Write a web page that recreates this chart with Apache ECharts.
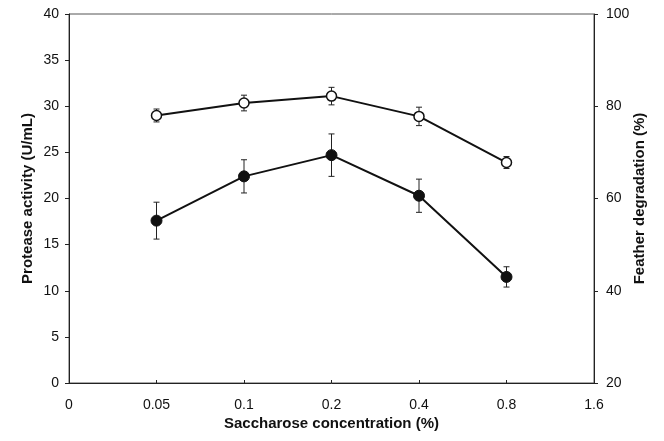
<!DOCTYPE html>
<html>
<head>
<meta charset="utf-8">
<script src="https://cdn.jsdelivr.net/npm/echarts@6/dist/echarts.min.js"></script>
<style>
  html, body { margin: 0; padding: 0; background: #fff; }
  #chart { width: 664px; height: 441px; }
</style>
</head>
<body>
<div id="chart"></div>
<script>
// x positions are evenly spaced categories 0..6
var xLabels = ['0', '0.05', '0.1', '0.2', '0.4', '0.8', '1.6'];
var xIdx = [1, 2, 3, 4, 5];

// protease activity (U/mL), left axis
var protease = [17.6, 22.4, 24.7, 20.3, 11.5];
var proteaseErr = [2.0, 1.8, 2.3, 1.8, 1.1];

// feather degradation (%), right axis
var feather = [78.0, 80.7, 82.2, 77.8, 67.8];
var featherErr = [1.4, 1.7, 1.9, 2.0, 1.3];

var font = 'Liberation Sans, Arial, sans-serif';

function pairs(vals) {
    return xIdx.map(function (x, i) { return [x, vals[i]]; });
}
function bars(vals, errs) {
    return xIdx.map(function (x, i) { return [x, vals[i] - errs[i], vals[i] + errs[i]]; });
}

function errorBar(params, api) {
    var lo = api.coord([api.value(0), api.value(1)]);
    var hi = api.coord([api.value(0), api.value(2)]);
    var w = 3;
    var st = { stroke: '#222', lineWidth: 1 };
    return {
        type: 'group',
        children: [
            { type: 'line', shape: { x1: lo[0], y1: lo[1], x2: hi[0], y2: hi[1] }, style: st },
            { type: 'line', shape: { x1: lo[0] - w, y1: lo[1], x2: lo[0] + w, y2: lo[1] }, style: st },
            { type: 'line', shape: { x1: hi[0] - w, y1: hi[1], x2: hi[0] + w, y2: hi[1] }, style: st }
        ]
    };
}

var chart = echarts.init(document.getElementById('chart'));

chart.setOption({
    animation: false,
    backgroundColor: '#fff',
    grid: {
        left: 69, right: 70, top: 14, bottom: 58,
        show: true, borderColor: '#555', borderWidth: 1
    },
    xAxis: {
        type: 'value', min: 0, max: 6, interval: 1,
        name: 'Saccharose concentration (%)',
        nameLocation: 'middle', nameGap: 33, nameMoveOverlap: false,
        nameTextStyle: { fontFamily: font, fontSize: 15, fontWeight: 'bold', color: '#111' },
        axisLine: { show: true, lineStyle: { color: '#222', width: 1 } },
        axisTick: { show: true, inside: true, length: 3, lineStyle: { color: '#222' } },
        axisLabel: {
            fontFamily: font, fontSize: 14, color: '#111', margin: 15,
            formatter: function (v) { return xLabels[v]; }
        },
        splitLine: { show: false }
    },
    yAxis: [
        {
            type: 'value', min: 0, max: 40, interval: 5, position: 'left',
            name: 'Protease activity (U/mL)',
            nameLocation: 'middle', nameGap: 34, nameRotate: 90, nameMoveOverlap: false,
            nameTextStyle: { fontFamily: font, fontSize: 15, fontWeight: 'bold', color: '#111' },
            axisLine: { show: true, lineStyle: { color: '#222', width: 1 } },
            axisTick: { show: true, length: 4, lineStyle: { color: '#222' } },
            axisLabel: { fontFamily: font, fontSize: 14, color: '#111', margin: 10 },
            splitLine: { show: false }
        },
        {
            type: 'value', min: 20, max: 100, interval: 20, position: 'right',
            name: 'Feather degradation (%)',
            nameLocation: 'middle', nameGap: 38, nameRotate: 90, nameMoveOverlap: false,
            nameTextStyle: { fontFamily: font, fontSize: 15, fontWeight: 'bold', color: '#111' },
            axisLine: { show: true, lineStyle: { color: '#222', width: 1 } },
            axisTick: { show: true, length: 4, lineStyle: { color: '#222' } },
            axisLabel: { fontFamily: font, fontSize: 14, color: '#111', margin: 12 },
            splitLine: { show: false }
        }
    ],
    series: [
        {
            type: 'custom', yAxisIndex: 0, renderItem: errorBar,
            encode: { x: 0, y: [1, 2] }, z: 1,
            data: bars(protease, proteaseErr)
        },
        {
            type: 'custom', yAxisIndex: 1, renderItem: errorBar,
            encode: { x: 0, y: [1, 2] }, z: 1,
            data: bars(feather, featherErr)
        },
        {
            name: 'Protease activity', type: 'line', yAxisIndex: 0, z: 3,
            symbol: 'circle', symbolSize: 11,
            lineStyle: { color: '#111', width: 2 },
            itemStyle: { color: '#111', borderColor: '#111', borderWidth: 1 },
            data: pairs(protease)
        },
        {
            name: 'Feather degradation', type: 'line', yAxisIndex: 1, z: 3,
            symbol: 'circle', symbolSize: 10,
            lineStyle: { color: '#111', width: 2 },
            itemStyle: { color: '#fff', borderColor: '#111', borderWidth: 1.5 },
            data: pairs(feather)
        }
    ]
});
</script>
</body>
</html>
